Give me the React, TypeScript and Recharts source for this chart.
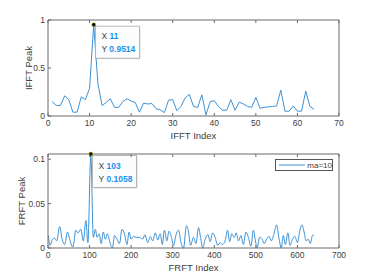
import { LineChart, Line, XAxis, YAxis, ReferenceDot } from "recharts";

// IFFT peak values, index 1..64
const ifftPeak = [
  0.15, 0.11, 0.11, 0.21, 0.17, 0.04, 0.04, 0.2, 0.17, 0.29,
  0.9514, 0.34, 0.11, 0.14, 0.18, 0.09, 0.09, 0.15, 0.18, 0.155,
  0.14, 0.04, 0.135, 0.125, 0.13, 0.075, 0.065, 0.035, 0.165, 0.17,
  0.055, 0.1, 0.19, 0.225, 0.1, 0.09, 0.22, 0.01, 0.15, 0.16,
  0.1, 0.06, 0.06, 0.17, 0.06, 0.145, 0.125, 0.1, 0.09, 0.195,
  0.08, 0.09, 0.095, 0.1, 0.105, 0.27, 0.05, 0.05, 0.105, 0.05,
  0.05, 0.26, 0.1, 0.07,
];
const ifftIndex = ifftPeak.map((_, i) => i + 1);
const ifftTicks = [0, 10, 20, 30, 40, 50, 60, 70];
const ifftYTicks = [0, 0.5, 1];

// FRFT peak values (read at the turning points of the curve)
const frftIndex = [
  1, 5, 10, 16, 21, 28, 34, 40, 47, 53, 60, 67, 72, 79, 85, 91, 96, 103,
  109, 114, 118, 123, 128, 133, 138, 143, 148, 155, 160, 166, 172, 178,
  184, 190, 195, 200, 206, 212, 220, 228, 233, 240, 246, 252, 258, 264,
  270, 275, 280, 286, 291, 297, 302, 308, 314, 320, 326, 333, 338, 343,
  350, 356, 362, 367, 372, 378, 385, 390, 396, 402, 408, 414, 420, 426,
  432, 437, 442, 448, 453, 458, 464, 470, 476, 482, 488, 494, 499, 503,
  509, 515, 520, 526, 532, 537, 543, 550, 556, 561, 566, 571, 577, 582,
  588, 594, 600, 606, 611, 616, 621, 626, 631, 636, 640,
];
const frftPeak = [
  0.014, 0.003, 0.009, 0.011, 0.008, 0.024, 0.01, 0.004, 0.018, 0.008,
  0.001, 0.02, 0.017, 0.021, 0.008, 0.031, 0.006, 0.1058, 0.012, 0.021,
  0.012, 0.016, 0.005, 0.018, 0.01, 0.016, 0.008, 0.0, 0.014, 0.01,
  0.005, 0.021, 0.016, 0.004, 0.018, 0.01, 0.013, 0.012, 0.012, 0.01,
  0.015, 0.006, 0.013, 0.008, 0.017, 0.009, 0.016, 0.004, 0.02, 0.008,
  0.019, 0.012, 0.003, 0.015, 0.02, 0.006, 0.0, 0.025, 0.018, 0.003,
  0.012, 0.005, 0.023, 0.012, 0.0, 0.01, 0.015, 0.007, 0.017, 0.012,
  0.003, 0.006, 0.004, 0.008, 0.02, 0.007, 0.016, 0.012, 0.017, 0.008,
  0.014, 0.004, 0.018, 0.012, 0.002, 0.02, 0.008, 0.0, 0.012, 0.01,
  0.005, 0.01, 0.013, 0.008, 0.015, 0.026, 0.01, 0.0, 0.014, 0.004,
  0.017, 0.003, 0.01, 0.013, 0.006, 0.02, 0.026, 0.018, 0.008, 0.01,
  0.005, 0.014, 0.015,
];
const frftTicks = [0, 100, 200, 300, 400, 500, 600, 700];
const frftYTicks = [0, 0.05, 0.1];

const tipTop = { x: 11, y: 0.9514 };
const tipBottom = { x: 103, y: 0.1058 };

const ifftData = ifftIndex.map((x, i) => ({ x, y: ifftPeak[i] }));
const frftData = frftIndex.map((x, i) => ({ x, y: frftPeak[i] }));

const LINE = "#3d92d6";
const AXIS = "#6a6a6a";
const TEXT = "#404040";
const FONT = "'Liberation Sans', Arial, Helvetica, sans-serif";
const TICK = 3;

function BottomTick({ x, y, payload }: any) {
  return (
    <g>
      <line x1={x} x2={x} y1={y} y2={y - TICK} stroke={AXIS} />
      <text x={x} y={y + 10} textAnchor="middle" fontSize={8.5} fill={TEXT} fontFamily={FONT}>
        {payload.value}
      </text>
    </g>
  );
}

function LeftTick({ x, y, payload }: any) {
  return (
    <g>
      <line x1={x} x2={x + TICK} y1={y} y2={y} stroke={AXIS} />
      <text x={x - 3} y={y + 3} textAnchor="end" fontSize={8.5} fill={TEXT} fontFamily={FONT}>
        {payload.value}
      </text>
    </g>
  );
}

function TopTick({ x, y }: any) {
  return <line x1={x} x2={x} y1={y} y2={y + TICK} stroke={AXIS} />;
}

function RightTick({ x, y }: any) {
  return <line x1={x} x2={x - TICK} y1={y} y2={y} stroke={AXIS} />;
}

function AxisTitle({ viewBox, text, vertical, at }: any) {
  const { x, y, width, height } = viewBox;
  if (vertical) {
    return (
      <text
        transform={`translate(${at},${y + height / 2}) rotate(-90)`}
        textAnchor="middle"
        dominantBaseline="central"
        fontSize={9.5}
        fill={TEXT}
        fontFamily={FONT}
      >
        {text}
      </text>
    );
  }
  return (
    <text x={x + width / 2} y={y + at} textAnchor="middle" dominantBaseline="central" fontSize={9.5} fill={TEXT} fontFamily={FONT}>
      {text}
    </text>
  );
}

function DataTip({ cx, cy, tx, ty }: any) {
  const bx = cx + 1.7;
  const by = cy + 1.5;
  return (
    <g>
      <rect x={bx + 1} y={by + 1} width={44} height={32} fill="#d8d8d8" />
      <rect x={bx} y={by} width={44} height={32} fill="#fbfcfe" stroke="#a8a8a8" strokeWidth={0.8} />
      <text x={bx + 6} y={by + 13} fontSize={8.5} fontFamily={FONT} fill={TEXT}>
        X <tspan fill="#1b92ea" fontWeight="bold">{tx}</tspan>
      </text>
      <text x={bx + 6} y={by + 26} fontSize={8.5} fontFamily={FONT} fill={TEXT}>
        Y <tspan fill="#1b92ea" fontWeight="bold">{ty}</tspan>
      </text>
      <circle cx={cx} cy={cy} r={2} fill="#111" stroke="#c8b400" strokeWidth={0.5} />
    </g>
  );
}

export default function App() {
  return (
    <div style={{ position: "fixed", left: 0, top: 0, width: 374, height: 280, background: "#fff" }}>
      {/* IFFT */}
      <LineChart width={374} height={140} data={ifftData} margin={{ top: 19, right: 34, left: 0, bottom: 0 }}>
        <XAxis
          xAxisId="b"
          dataKey="x"
          type="number"
          domain={[0, 70]}
          ticks={ifftTicks}
          height={24}
          stroke={AXIS}
          tickSize={0}
          tickMargin={0}
          tick={<BottomTick />}
          label={<AxisTitle text="IFFT Index" at={19} />}
        />
        <XAxis xAxisId="t" orientation="top" dataKey="x" type="number" domain={[0, 70]} ticks={ifftTicks} height={1} stroke={AXIS} tickSize={0} tickMargin={0} tick={<TopTick />} />
        <YAxis
          yAxisId="l"
          domain={[0, 1]}
          ticks={ifftYTicks}
          width={48}
          stroke={AXIS}
          tickSize={0}
          tickMargin={0}
          tick={<LeftTick />}
          label={<AxisTitle text="IFFT Peak" vertical at={28} />}
        />
        <YAxis yAxisId="r" orientation="right" domain={[0, 1]} ticks={ifftYTicks} width={1} stroke={AXIS} tickSize={0} tickMargin={0} tick={<RightTick />} />
        <Line xAxisId="b" yAxisId="l" dataKey="y" type="linear" stroke={LINE} strokeWidth={1} dot={false} isAnimationActive={false} />
        <ReferenceDot
          xAxisId="b"
          yAxisId="l"
          x={tipTop.x}
          y={tipTop.y}
          shape={(p: any) => <DataTip cx={p.cx} cy={p.cy} tx={tipTop.x} ty={tipTop.y} />}
        />
      </LineChart>

      {/* FRFT */}
      <LineChart width={374} height={140} data={frftData} margin={{ top: 13, right: 34, left: 0, bottom: 0 }}>
        <XAxis
          xAxisId="b"
          dataKey="x"
          type="number"
          domain={[0, 700]}
          ticks={frftTicks}
          height={32}
          stroke={AXIS}
          tickSize={0}
          tickMargin={0}
          tick={<BottomTick />}
          label={<AxisTitle text="FRFT Index" at={19} />}
        />
        <XAxis xAxisId="t" orientation="top" dataKey="x" type="number" domain={[0, 700]} ticks={frftTicks} height={1} stroke={AXIS} tickSize={0} tickMargin={0} tick={<TopTick />} />
        <YAxis
          yAxisId="l"
          domain={[0, 0.1058]}
          ticks={frftYTicks}
          width={48}
          stroke={AXIS}
          tickSize={0}
          tickMargin={0}
          tick={<LeftTick />}
          label={<AxisTitle text="FRFT Peak" vertical at={21} />}
        />
        <YAxis yAxisId="r" orientation="right" domain={[0, 0.1058]} ticks={frftYTicks} width={1} stroke={AXIS} tickSize={0} tickMargin={0} tick={<RightTick />} />
        <Line xAxisId="b" yAxisId="l" dataKey="y" type="monotone" stroke={LINE} strokeWidth={1} dot={false} isAnimationActive={false} />
        <ReferenceDot
          xAxisId="b"
          yAxisId="l"
          x={tipBottom.x}
          y={tipBottom.y}
          shape={(p: any) => <DataTip cx={p.cx} cy={p.cy} tx={tipBottom.x} ty={tipBottom.y} />}
        />
      </LineChart>

      {/* legend */}
      <div
        style={{
          position: "absolute",
          left: 275,
          top: 159,
          width: 56,
          height: 10,
          border: "1px solid #555",
          background: "#fff",
          display: "flex",
          alignItems: "center",
          fontFamily: FONT,
          fontSize: 8,
          color: TEXT,
        }}
      >
        <svg width={32} height={10}>
          <line x1={3} x2={29} y1={5} y2={5} stroke={LINE} strokeWidth={1} />
        </svg>
        <span>ma=10</span>
      </div>
    </div>
  );
}
